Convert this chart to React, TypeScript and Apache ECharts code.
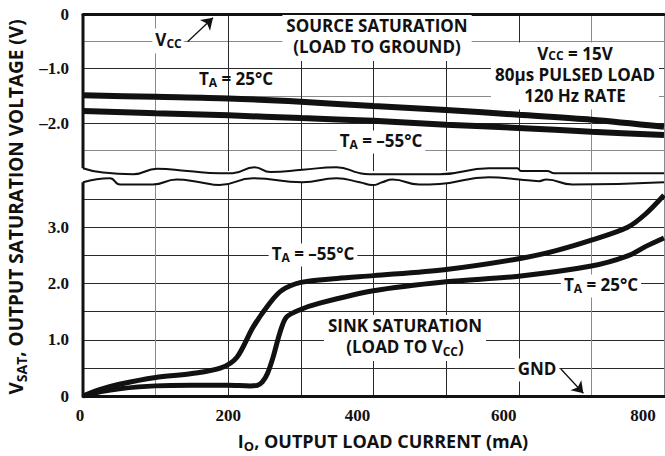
import React, { useEffect, useRef } from "react";
import * as echarts from "echarts";

// ---------- data ----------
const xTicks = [0, 200, 400, 600, 800];
const upperYTicks = [0, -1, -2];
const upperYLabels = ["0", "–1.0", "–2.0"];
const lowerYTicks = [0, 1, 2, 3];
const lowerYLabels = ["0", "1.0", "2.0", "3.0"];

// source saturation (load to ground), volts
const sourceX = [0, 100, 200, 300, 400, 500, 600, 700, 800];
const source25 = [-1.49, -1.52, -1.55, -1.61, -1.69, -1.76, -1.85, -1.94, -2.07];
const sourceM55 = [-1.78, -1.82, -1.86, -1.91, -1.96, -2.03, -2.09, -2.16, -2.22];

// sink saturation (load to Vcc), volts
const sinkM55X = [0, 25, 50, 100, 150, 190, 212, 234, 257, 274, 300, 350, 400, 500, 600, 650, 700, 750, 775, 800];
const sinkM55 = [0, 0.12, 0.21, 0.33, 0.4, 0.5, 0.69, 1.22, 1.65, 1.88, 2.02, 2.09, 2.14, 2.25, 2.44, 2.58, 2.77, 3.0, 3.24, 3.57];
const sink25X = [0, 25, 50, 100, 150, 200, 230, 240, 247, 254, 262, 271, 280, 298, 326, 400, 500, 600, 700, 750, 775, 800];
const sink25 = [0, 0.08, 0.13, 0.18, 0.19, 0.19, 0.18, 0.19, 0.25, 0.4, 0.7, 1.12, 1.4, 1.53, 1.65, 1.87, 2.03, 2.13, 2.31, 2.49, 2.66, 2.81];

// axis-break wavy edges
const upperBreakX = [0, 23, 69, 102, 144, 188, 206, 236, 258, 302, 349, 381, 395, 491, 559, 598, 603, 639, 649, 800];
const upperBreakY = [-2.83, -2.9, -2.94, -2.84, -2.88, -2.92, -2.92, -2.81, -2.9, -2.86, -2.81, -2.92, -2.94, -2.94, -2.83, -2.83, -2.88, -2.88, -2.92, -2.92];
const lowerBreakX = [0, 37, 51, 96, 129, 161, 188, 234, 302, 349, 381, 399, 412, 426, 463, 491, 559, 601, 628, 638, 674, 800];
const lowerBreakY = [3.8, 3.87, 3.76, 3.76, 3.85, 3.8, 3.75, 3.87, 3.8, 3.87, 3.8, 3.75, 3.8, 3.85, 3.76, 3.77, 3.89, 3.85, 3.82, 3.85, 3.76, 3.8];

// annotation arrows (data coords)
const vccArrow = [[144, -0.51], [179, -0.07]];
const gndArrow = [[658, 0.48], [689, 0.05]];

// ---------- helpers ----------
const zip = (xs: number[], ys: number[]) => xs.map((x, i) => [x, ys[i]]);
const near = (a: number, b: number) => Math.abs(a - b) < 1e-6;

const TXT = "'Open Sans', 'DejaVu Sans', sans-serif";
const NUM = "'Liberation Serif', serif";
const BLACK = "#111";
const GRAY = "#8a8a8a";
const DARK = "#2a2a2a";

const xShift = [6, 0, 32, 30, 42];

function App() {
  const ref = useRef<HTMLDivElement>(null);

  useEffect(() => {
    if (!ref.current) return;
    const chart = echarts.init(ref.current, undefined, { renderer: "svg" });

    const rich: any = {};
    xShift.forEach((p, i) => {
      rich["s" + i] = {
        fontFamily: NUM,
        fontWeight: "bold",
        fontSize: 17,
        color: BLACK,
        padding: [0, p, 0, 0],
      };
    });

    const mkRich = (fs: number, lh = fs + 4, sub = Math.round(fs * 0.4)) => ({
      n: { fontFamily: TXT, fontWeight: "bold", fontSize: fs, color: BLACK, lineHeight: lh, verticalAlign: "top" },
      s: {
        fontFamily: TXT,
        fontWeight: "bold",
        fontSize: Math.round(fs * 0.72),
        color: BLACK,
        lineHeight: Math.round(fs * 0.72) + 2,
        padding: [sub, 0, 0, 0],
        verticalAlign: "top",
      },
    });

    const label = (x: number, y: number, text: string, fs: number, extra: any = {}, richOpt?: any) => ({
      type: "text",
      x,
      y,
      z: 1,
      ...extra,
      style: {
        text,
        rich: richOpt || mkRich(fs),
        align: "center",
        verticalAlign: "middle",
        textAlign: "center",
        textVerticalAlign: "middle",
        backgroundColor: "#fff",
        padding: [1, 3],
        fill: BLACK,
        font: `bold ${fs}px ${TXT}`,
        ...(extra.style || {}),
      },
    });

    const curve = (name: string, xs: number[], ys: number[], idx: number, w: number) => ({
      name,
      type: "line",
      xAxisIndex: idx,
      yAxisIndex: idx,
      data: zip(xs, ys),
      showSymbol: false,
      smooth: 0.3,
      lineStyle: { color: BLACK, width: w },
      z: 3,
      silent: true,
    });

    const arrowLine = (pts: number[][]) => ({
      silent: true,
      symbol: ["none", "arrow"],
      symbolSize: 11,
      label: { show: false },
      lineStyle: { color: BLACK, width: 1.3, type: "solid" },
      data: [[{ coord: pts[0] }, { coord: pts[1] }]],
    });

    const option: any = {
      animation: false,
      backgroundColor: "#fff",
      grid: [
        { left: 83, right: 1, top: 14, height: 163.5, outerBoundsMode: "none" },
        { left: 83, right: 1, top: 171, height: 225, outerBoundsMode: "none" },
      ],
      xAxis: [
        {
          type: "value",
          gridIndex: 0,
          position: "top",
          min: 0,
          max: 800,
          interval: 100,
          axisLine: { show: true, lineStyle: { color: BLACK, width: 3 } },
          axisTick: { show: false },
          axisLabel: { show: false },
          splitLine: {
            show: true,
            lineStyle: { width: 1, color: ["transparent", GRAY, DARK, DARK, DARK, DARK, DARK, GRAY, GRAY] },
          },
        },
        {
          type: "value",
          gridIndex: 1,
          position: "bottom",
          min: 0,
          max: 800,
          interval: 100,
          axisLine: { show: true, lineStyle: { color: BLACK, width: 3 } },
          axisTick: { show: false },
          axisLabel: {
            margin: 11,
            fontFamily: NUM,
            fontWeight: "bold",
            fontSize: 17,
            color: BLACK,
            rich,
            formatter: (v: number) => {
              const i = xTicks.findIndex((t) => near(t, v));
              return i < 0 ? "" : `{s${i}|${xTicks[i]}}`;
            },
          },
          splitLine: {
            show: true,
            lineStyle: { width: 1, color: ["transparent", GRAY, DARK, DARK, DARK, DARK, DARK, GRAY, GRAY] },
          },
        },
      ],
      yAxis: [
        {
          type: "value",
          gridIndex: 0,
          min: -3,
          max: 0,
          interval: 0.5,
          axisLine: { show: false },
          axisTick: { show: false },
          axisLabel: {
            margin: 14,
            fontFamily: NUM,
            fontWeight: "bold",
            fontSize: 17,
            color: BLACK,
            formatter: (v: number) => {
              const i = upperYTicks.findIndex((t) => near(t, v));
              return i < 0 ? "" : upperYLabels[i];
            },
          },
          splitLine: {
            show: true,
            lineStyle: { width: 1, color: ["transparent", GRAY, DARK, GRAY, DARK, GRAY, "transparent"] },
          },
        },
        {
          type: "value",
          gridIndex: 1,
          min: 0,
          max: 4,
          interval: 0.5,
          axisLine: { show: false },
          axisTick: { show: false },
          axisLabel: {
            margin: 14,
            fontFamily: NUM,
            fontWeight: "bold",
            fontSize: 17,
            color: BLACK,
            formatter: (v: number) => {
              const i = lowerYTicks.findIndex((t) => near(t, v));
              return i < 0 ? "" : lowerYLabels[i];
            },
          },
          splitLine: {
            show: true,
            lineStyle: {
              width: 1,
              color: ["transparent", DARK, DARK, DARK, DARK, DARK, DARK, DARK, "transparent"],
            },
          },
        },
      ],
      series: [
        // white masks for the axis break
        {
          type: "line",
          xAxisIndex: 0,
          yAxisIndex: 0,
          data: zip(upperBreakX, upperBreakY),
          smooth: 0.5,
          showSymbol: false,
          lineStyle: { width: 0 },
          areaStyle: { color: "#fff", opacity: 1, origin: "start" },
          z: 2,
          silent: true,
        },
        {
          type: "line",
          xAxisIndex: 1,
          yAxisIndex: 1,
          data: zip(lowerBreakX, lowerBreakY),
          smooth: 0.5,
          showSymbol: false,
          lineStyle: { width: 0 },
          areaStyle: { color: "#fff", opacity: 1, origin: "end" },
          z: 2,
          silent: true,
        },
        // wavy break edges
        {
          type: "line",
          xAxisIndex: 0,
          yAxisIndex: 0,
          data: zip(upperBreakX, upperBreakY),
          smooth: 0.5,
          showSymbol: false,
          lineStyle: { color: BLACK, width: 2 },
          z: 4,
          silent: true,
        },
        {
          type: "line",
          xAxisIndex: 1,
          yAxisIndex: 1,
          data: zip(lowerBreakX, lowerBreakY),
          smooth: 0.5,
          showSymbol: false,
          lineStyle: { color: BLACK, width: 2 },
          z: 4,
          silent: true,
        },
        // left frame pieces
        {
          type: "line",
          xAxisIndex: 0,
          yAxisIndex: 0,
          data: [[0, 0], [0, upperBreakY[0]]],
          showSymbol: false,
          clip: false,
          lineStyle: { color: BLACK, width: 3 },
          z: 4,
          silent: true,
          markLine: arrowLine(vccArrow),
        },
        {
          type: "line",
          xAxisIndex: 1,
          yAxisIndex: 1,
          data: [[0, 0], [0, lowerBreakY[0]]],
          showSymbol: false,
          clip: false,
          lineStyle: { color: BLACK, width: 3 },
          z: 4,
          silent: true,
          markLine: arrowLine(gndArrow),
        },
        curve("Source 25°C", sourceX, source25, 0, 6),
        curve("Source −55°C", sourceX, sourceM55, 0, 6),
        curve("Sink −55°C", sinkM55X, sinkM55, 1, 5),
        curve("Sink 25°C", sink25X, sink25, 1, 5),
      ],
      graphic: [
        label(168, 41, "{n|V}{s|CC}", 17, { style: { padding: [2, 2, 2, 3] } }),
        label(377, 38, "{n|SOURCE SATURATION}\n{n|(LOAD TO GROUND)}", 17, { style: { padding: [2, 4] } }),
        label(
          575,
          76,
          "{n|V}{s|CC}{n| = 15V}\n{n|80µs PULSED LOAD}\n{n|120 Hz RATE}",
          17,
          { style: { padding: [2, 4] } },
          mkRich(17, 21, 5)
        ),
        label(236, 80, "{n|T}{s|A}{n| = 25°C}", 17, { style: { backgroundColor: "transparent" } }),
        label(381, 142, "{n|T}{s|A}{n| = –55°C}", 17),
        label(313, 255, "{n|T}{s|A}{n| = –55°C}", 17),
        label(601, 286, "{n|T}{s|A}{n| = 25°C}", 17),
        label(405, 338, "{n|SINK SATURATION}\n{n|(LOAD TO V}{s|CC}{n|)}", 17, { style: { padding: [2, 4] } }),
        label(537, 370, "{n|GND}", 17),
        label(18, 207, "{n|V}{s|SAT}{n|, OUTPUT SATURATION VOLTAGE (V)}", 19, {
          rotation: Math.PI / 2,
          style: { backgroundColor: "transparent" },
        }),
        label(383, 443, "{n|I}{s|O}{n|, OUTPUT LOAD CURRENT (mA)}", 18, { style: { backgroundColor: "transparent" } }),
      ],
    };

    chart.setOption(option);
    return () => chart.dispose();
  }, []);

  return (
    <div
      ref={ref}
      style={{ position: "absolute", left: 0, top: 0, width: 665, height: 456, background: "#fff" }}
    />
  );
}

export default App;
